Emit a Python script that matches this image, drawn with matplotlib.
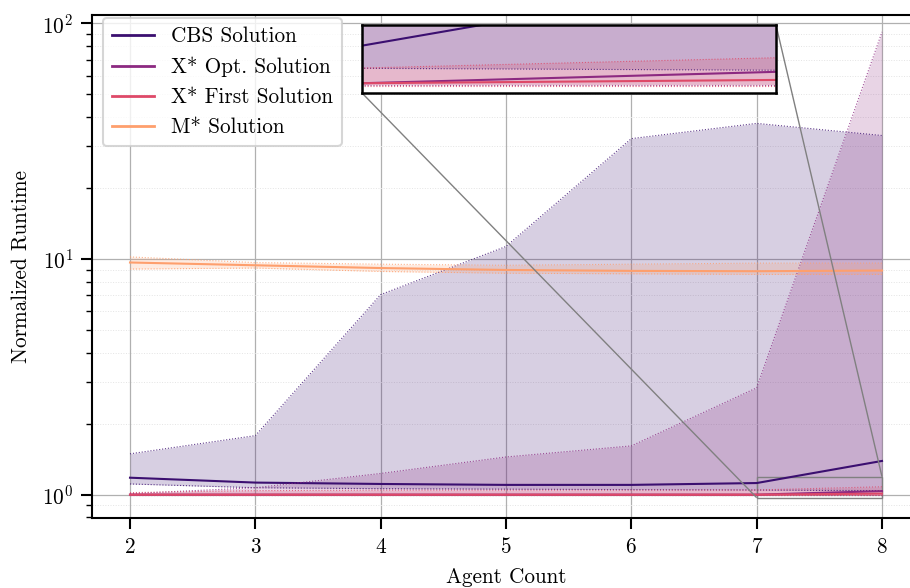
import matplotlib
matplotlib.use("Agg")
import matplotlib.pyplot as plt
import numpy as np
from mpl_toolkits.axes_grid1.inset_locator import mark_inset

plt.rcParams['font.family'] = ['cmr10', 'DejaVu Serif']
plt.rcParams['mathtext.fontset'] = 'cm'
plt.rcParams['axes.formatter.use_mathtext'] = True
plt.rcParams['font.size'] = 15.3

agents = [2, 3, 4, 5, 6, 7, 8]

cbs_mean = [1.18, 1.125, 1.11, 1.10, 1.10, 1.12, 1.39]
cbs_low = [1.11, 1.07, 1.06, 1.055, 1.05, 1.046, 1.04]
cbs_high = [1.49, 1.78, 7.06, 11.3, 32.4, 37.6, 33.4]

xopt_mean = [1.0, 1.0, 1.0, 1.0, 1.0, 1.0, 1.035]
xopt_low = [0.995, 0.995, 0.995, 0.995, 0.995, 0.995, 0.995]
xopt_high = [1.01, 1.07, 1.23, 1.445, 1.61, 2.84, 91.9]

xfirst_mean = [1.0, 1.0, 1.0, 1.0, 1.0, 1.0, 1.01]
xfirst_low = [0.993, 0.993, 0.993, 0.993, 0.993, 0.993, 0.993]
xfirst_high = [1.02, 1.04, 1.045, 1.045, 1.045, 1.047, 1.08]

mstar_mean = [9.66, 9.4, 9.15, 8.98, 8.9, 8.87, 8.93]
mstar_low = [9.06, 9.15, 8.85, 8.7, 8.65, 8.6, 8.6]
mstar_high = [10.2, 9.65, 9.5, 9.4, 9.5, 9.6, 9.6]

labels = ["CBS Solution", "X* Opt. Solution", "X* First Solution", "M* Solution"]
colors = ["#3b0f70", "#8c2981", "#de4968", "#fe9f6d"]
series = [(cbs_mean, cbs_low, cbs_high),
          (xopt_mean, xopt_low, xopt_high),
          (xfirst_mean, xfirst_low, xfirst_high),
          (mstar_mean, mstar_low, mstar_high)]

W, H = 910, 588
fig = plt.figure(figsize=(W / 100, H / 100), dpi=100)
left, right, top, bottom = 92.4, 919.6, 15, 518
ax = fig.add_axes([left / W, 1 - bottom / H, (right - left) / W, (bottom - top) / H])


def draw(a, with_label=True):
    for (m, lo, hi), c, lab in zip(series, colors, labels):
        a.fill_between(agents, lo, hi, color=c, alpha=0.2, linewidth=0)
        a.plot(agents, lo, ls=':', color=c, lw=0.8, alpha=0.8)
        a.plot(agents, hi, ls=':', color=c, lw=0.8, alpha=0.8)
        a.plot(agents, m, color=c, lw=1.5, label=lab if with_label else None)


draw(ax)
ax.set_yscale('log')
ax.set_xlim(1.7, 8.3)
ax.set_ylim(0.796, 108.4)
ax.set_xticks(agents)
ax.grid(True, which='major', color='#b0b0b0', lw=0.9)
ax.grid(True, which='minor', axis='y', color='#e4e4e4', lw=0.7, ls=':')
ax.set_axisbelow(True)
for s in ax.spines.values():
    s.set_linewidth(1.5)
    s.set_color('black')
ax.tick_params(which='major', length=8, width=1.5, direction='out', pad=6)
ax.tick_params(which='minor', length=4.5, width=1.0, direction='out')
ax.set_xlabel("Agent Count", labelpad=7)
ax.set_ylabel("Normalized Runtime", labelpad=8)

aw, ah = right - left, bottom - top
leg = ax.legend(loc='upper left', fontsize=15.3, frameon=True, fancybox=True,
                edgecolor='#cccccc', framealpha=0.8, borderaxespad=0.0,
                bbox_to_anchor=((103 - left) / aw, 1 - 3 / ah),
                handlelength=2.0)
for l in leg.get_lines():
    l.set_linewidth(2.0)
leg.get_frame().set_linewidth(1.5)

axins = fig.add_axes([362 / W, 1 - 93 / H, 414 / W, 68 / H])
draw(axins, with_label=False)
axins.set_yscale('log')
axins.set_xlim(7, 8)
axins.set_ylim(0.971, 1.192)
axins.set_xticks([])
axins.set_yticks([])
axins.yaxis.set_minor_locator(matplotlib.ticker.NullLocator())
for s in axins.spines.values():
    s.set_linewidth(1.8)
    s.set_color('black')

mark_inset(ax, axins, loc1=1, loc2=3, fc='none', ec='0.5', lw=1.0)

fig.savefig("out.png", dpi=100)
